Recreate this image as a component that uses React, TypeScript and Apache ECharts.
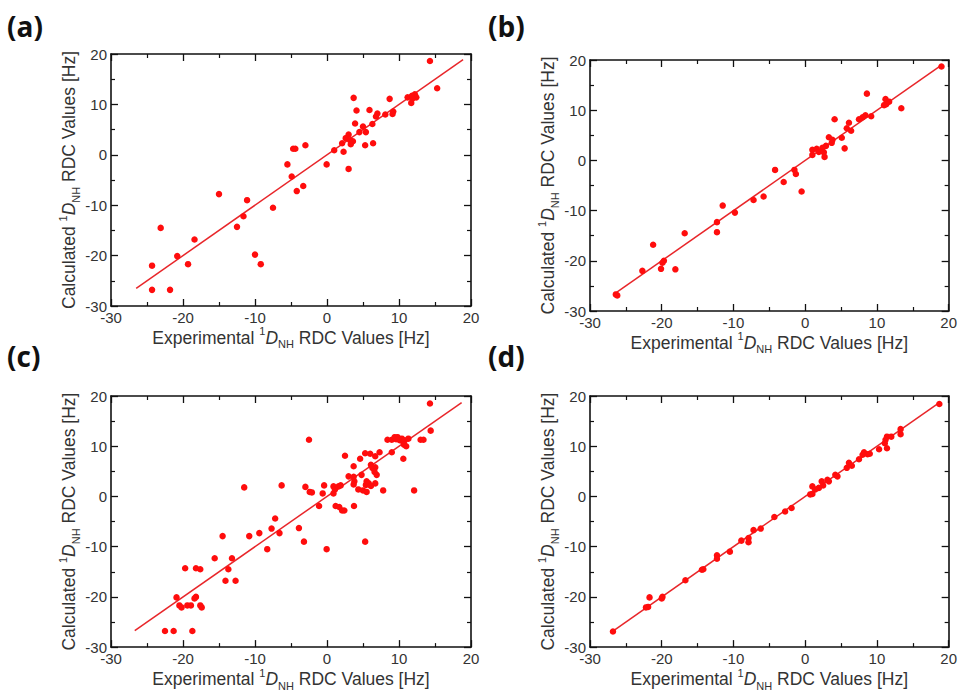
import React, { useEffect, useRef } from "react";
import * as echarts from "echarts";

// Experimental vs calculated 1D_NH RDC values [Hz]
const panelA: number[][] = [
  [14.3, 18.6], [15.3, 13.2], [11.2, 11.4], [11.8, 11.7], [12.2, 12.0], [12.4, 11.4], [11.9, 11.2], [11.7, 10.3],
  [8.7, 11.1], [3.7, 11.3], [4.1, 8.8], [5.9, 8.9], [7.0, 8.2], [6.8, 7.6], [8.1, 8.0], [9.2, 8.6], [9.1, 8.1],
  [3.9, 6.2], [6.3, 6.1], [5.0, 5.6], [4.5, 4.5], [5.4, 4.5], [3.0, 4.0], [2.6, 3.3], [3.2, 2.9], [3.6, 2.7],
  [3.3, 2.1], [2.1, 2.3], [2.3, 0.6], [1.0, 0.9], [5.3, 1.9], [6.4, 2.3], [3.0, -2.8], [-0.05, -1.9],
  [-4.7, 1.2], [-4.4, 1.2], [-3.0, 1.9], [-5.5, -1.9], [-4.9, -4.3], [-4.2, -7.2], [-3.3, -6.2], [-7.5, -10.5],
  [-11.1, -9.0], [-15.0, -7.8], [-11.6, -12.2], [-12.5, -14.3], [-10.0, -19.8], [-9.2, -21.7], [-18.4, -16.8],
  [-23.1, -14.5], [-20.8, -20.1], [-19.3, -21.7], [-24.3, -22.0], [-24.3, -26.8], [-21.8, -26.8],
];
const panelB: number[][] = [
  [19.0, 18.7], [8.6, 13.3], [13.4, 10.4], [11.2, 12.2], [11.7, 11.7], [11.3, 11.2], [11.0, 11.0], [9.2, 8.8],
  [8.4, 9.0], [8.0, 8.6], [7.5, 8.2], [4.1, 8.2], [6.1, 7.5], [5.8, 6.4], [6.4, 5.9], [5.1, 4.5], [3.3, 4.6],
  [3.8, 4.1], [3.7, 3.5], [2.9, 2.9], [2.4, 2.5], [5.5, 2.4], [1.0, 2.1], [1.6, 2.3], [1.9, 1.7], [1.0, 1.1],
  [2.6, 1.6], [2.7, 0.7], [-4.2, -1.9], [-1.5, -1.9], [-1.3, -2.7], [-3.0, -4.3], [-0.5, -6.2], [-5.8, -7.2],
  [-7.2, -7.9], [-9.8, -10.4], [-11.5, -9.0], [-12.3, -12.3], [-12.3, -14.3], [-16.8, -14.5], [-21.2, -16.8],
  [-19.7, -20.0], [-19.9, -20.4], [-20.1, -21.6], [-18.1, -21.7], [-22.7, -22.0], [-26.4, -26.7], [-26.2, -26.9],
];
const panelC: number[][] = [
  [14.3, 18.5], [14.4, 13.1], [12.1, 1.2], [13.0, 11.3], [13.4, 11.3], [8.4, 11.3], [9.0, 11.3], [9.4, 11.8],
  [9.8, 11.8], [10.1, 11.2], [10.4, 11.5], [10.6, 10.8], [10.8, 11.2], [10.7, 10.3], [11.0, 10.0], [11.3, 11.5],
  [9.6, 11.4], [9.0, 8.8], [10.6, 7.5], [7.3, 8.8], [5.3, 8.6], [6.0, 8.5], [6.7, 8.0], [2.5, 8.1], [4.6, 7.5],
  [6.1, 6.3], [6.7, 5.8], [6.3, 5.7], [3.7, 6.0], [4.8, 4.3], [6.9, 4.3], [6.6, 4.9], [3.0, 4.0], [3.7, 3.9],
  [3.8, 3.0], [3.7, 2.4], [5.5, 3.0], [5.4, 2.3], [5.8, 2.6], [6.7, 2.6], [6.1, 2.1], [4.35, 1.4], [5.0, 1.2],
  [5.5, 0.9], [7.8, 1.2], [0.9, 2.0], [1.1, 1.4], [1.6, 2.0], [1.9, 2.2], [0.9, 0.6], [-0.4, 2.2], [-0.6, 0.6],
  [-3.0, 1.9], [-2.4, 0.9], [-2.1, 0.8], [-2.5, 11.3], [-6.3, 2.2], [-11.5, 1.8], [-1.1, -1.9], [1.2, -1.9],
  [1.7, -2.1], [2.1, -2.8], [2.4, -2.8], [3.75, -1.9], [5.3, -9.0], [-0.05, -10.5], [-3.2, -9.0], [-3.9, -6.3],
  [-7.2, -4.4], [-7.7, -6.4], [-6.6, -7.3], [-9.4, -7.3], [-10.8, -7.9], [-8.3, -10.5], [-14.5, -7.9],
  [-15.6, -12.3], [-13.2, -12.3], [-13.7, -14.5], [-14.1, -16.8], [-12.7, -16.8], [-19.7, -14.3], [-18.2, -14.3],
  [-17.6, -14.5], [-20.9, -20.1], [-18.2, -20.0], [-18.4, -20.3], [-20.5, -21.7], [-20.2, -22.1], [-19.4, -21.7],
  [-18.9, -21.7], [-17.6, -21.7], [-17.4, -22.1], [-22.5, -26.8], [-21.3, -26.8], [-18.7, -26.8],
];
const panelD: number[][] = [
  [18.7, 18.4], [13.3, 13.4], [13.3, 12.4], [11.4, 11.9], [12.0, 11.9], [11.2, 11.3], [11.1, 10.6], [11.4, 9.6],
  [10.3, 9.4], [8.2, 8.8], [8.7, 8.4], [9.0, 8.5], [8.0, 8.3], [7.5, 7.4], [6.1, 6.7], [5.8, 5.7], [6.5, 6.1],
  [4.2, 4.3], [4.5, 4.0], [3.1, 3.3], [3.3, 3.0], [2.5, 2.2], [1.9, 1.7], [1.0, 2.0], [1.4, 1.4], [1.0, 0.5],
  [2.3, 3.0], [0.7, 0.4], [-1.9, -2.3], [-2.8, -3.0], [-4.3, -4.1], [-6.2, -6.4], [-7.2, -6.7], [-7.9, -8.3],
  [-8.9, -8.8], [-7.9, -9.1], [-10.5, -11.0], [-12.3, -11.7], [-12.3, -12.4], [-14.4, -14.6], [-14.2, -14.5],
  [-16.7, -16.7], [-19.9, -20.0], [-20.0, -20.3], [-21.7, -20.1], [-21.9, -22.0], [-22.2, -22.1], [-26.8, -26.9],
];

// Fit lines (start/end points)
const fitA: number[][] = [[-26.5, -26.5], [18.9, 18.9]];
const fitB: number[][] = [[-26.4, -26.4], [19.0, 19.0]];
const fitC: number[][] = [[-26.7, -26.7], [18.7, 18.7]];
const fitD: number[][] = [[-26.8, -26.8], [18.7, 18.7]];

const panelLabels = ["(a)", "(b)", "(c)", "(d)"];
const axisMin = -30;
const axisMax = 20;
const axisInterval = 10;

const xTitle = "Experimental {sup|1}{it|D}{sub|NH} RDC Values [Hz]";
const yTitle = "Calculated {sup|1}{it|D}{sub|NH} RDC Values [Hz]";

export default function App() {
  const ref = useRef<HTMLDivElement>(null);

  useEffect(() => {
    if (!ref.current) return;
    const chart = echarts.init(ref.current, undefined, { renderer: "svg" });

    const datasets = [panelA, panelB, panelC, panelD];
    const fits = [fitA, fitB, fitC, fitD];
    const grids = [
      { left: 111, top: 54, width: 360, height: 252 },
      { left: 590, top: 60, width: 360, height: 251 },
      { left: 111, top: 396, width: 360, height: 252 },
      { left: 590, top: 396, width: 360, height: 252 },
    ];
    const labelPos = [
      { x: 7, y: 12 },
      { x: 488, y: 12 },
      { x: 7, y: 342 },
      { x: 488, y: 342 },
    ];

    const font = "'Liberation Sans', Arial, sans-serif";
    const rich = {
      n: { fontSize: 17.5, lineHeight: 24, color: "#333", fontFamily: font },
      sup: { fontSize: 11, lineHeight: 12, verticalAlign: "top", color: "#333", fontFamily: font },
      it: { fontSize: 17.5, lineHeight: 24, fontStyle: "italic", color: "#333", fontFamily: font },
      sub: { fontSize: 11, lineHeight: 12, verticalAlign: "bottom", color: "#333", fontFamily: font },
    };

    const common = (show: boolean) => ({
      type: "value",
      min: axisMin,
      max: axisMax,
      interval: axisInterval,
      axisLine: { show: true, onZero: false, lineStyle: { color: "#111", width: 1.6 } },
      axisTick: { show: true, inside: true, length: 7, lineStyle: { color: "#111", width: 1.3 } },
      minorTick: { show: true, splitNumber: 2, length: 4, lineStyle: { color: "#111", width: 1.2 } },
      splitLine: { show: false },
      axisLabel: {
        show,
        fontSize: 15,
        color: "#333",
        fontFamily: font,
        margin: 4,
      },
    });

    const xAxis: any[] = [];
    const yAxis: any[] = [];
    const series: any[] = [];
    grids.forEach((_, g) => {
      xAxis.push({
        ...common(true),
        gridIndex: g,
        position: "bottom",
        name: xTitle,
        nameLocation: "middle",
        nameGap: 19,
        nameTextStyle: { fontSize: 17.5, color: "#333", fontFamily: font, lineHeight: 24, rich },
      });
      xAxis.push({ ...common(false), gridIndex: g, position: "top" });
      yAxis.push({
        ...common(true),
        gridIndex: g,
        position: "left",
        name: yTitle,
        nameLocation: "middle",
        nameRotate: 90,
        nameGap: 29,
        nameTextStyle: { fontSize: 17.5, color: "#333", fontFamily: font, lineHeight: 24, rich },
      });
      yAxis.push({ ...common(false), gridIndex: g, position: "right" });

      series.push({
        type: "line",
        xAxisIndex: 2 * g,
        yAxisIndex: 2 * g,
        data: fits[g],
        showSymbol: false,
        symbol: "none",
        lineStyle: { color: "#e8262a", width: 1.5 },
        z: 2,
      });
      series.push({
        type: "scatter",
        xAxisIndex: 2 * g,
        yAxisIndex: 2 * g,
        data: datasets[g],
        symbol: "circle",
        symbolSize: 6.5,
        itemStyle: { color: "#ff0d0d", opacity: 1 },
        z: 3,
      });
    });

    chart.setOption({
      animation: false,
      backgroundColor: "#fff",
      grid: grids.map((gr) => ({ ...gr, containLabel: false })),
      xAxis,
      yAxis,
      series,
      graphic: panelLabels.map((t, i) => ({
        type: "text",
        left: labelPos[i].x,
        top: labelPos[i].y,
        style: {
          text: t,
          fontSize: 28,
          fontWeight: "bold",
          fontFamily: "'Open Sans', 'Liberation Sans', sans-serif",
          fill: "#111",
        },
      })),
    });

    return () => chart.dispose();
  }, []);

  return (
    <div
      ref={ref}
      style={{ position: "absolute", left: 0, top: 0, width: 960, height: 692 }}
    />
  );
}
